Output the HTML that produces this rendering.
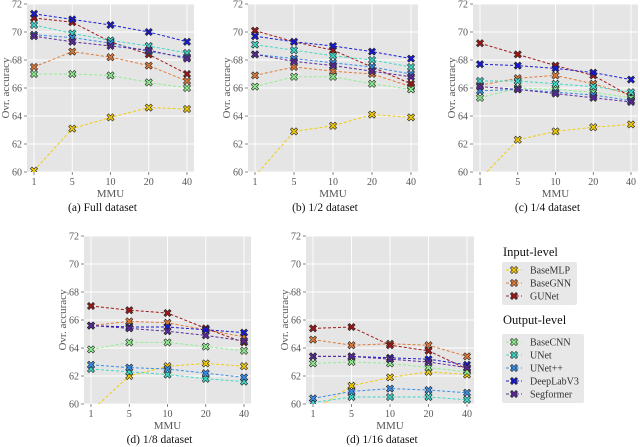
<!DOCTYPE html>
<html><head><meta charset="utf-8"><style>
html,body{margin:0;padding:0;background:#fff;}
svg{display:block;font-family:"Liberation Serif",serif;}
</style></head><body>
<svg id="c" width="640" height="447" viewBox="0 0 640 447" xmlns="http://www.w3.org/2000/svg"></svg>
<script>
const categories = ["1","5","10","20","40"];
const yTicks = [60,62,64,66,68,70,72];
const seriesNames = ["BaseMLP","BaseGNN","GUNet","BaseCNN","UNet","UNet++","DeepLabV3","Segformer"];
const seriesColors = ["#f2cc0c","#e07b39","#a01818","#90ee90","#40d8c8","#3a8ee6","#1a1ad6","#5a2a9a"];
const panelTitles = ["(a) Full dataset","(b) 1/2 dataset","(c) 1/4 dataset","(d) 1/8 dataset","(d) 1/16 dataset"];
const dataFull = [
 [60.1,63.1,63.9,64.6,64.5],[67.5,68.6,68.2,67.6,66.5],[71.0,70.7,69.3,68.4,67.0],[67.0,67.0,66.9,66.4,66.0],
 [70.5,69.9,69.4,69.0,68.5],[69.8,69.6,69.2,68.6,68.2],[71.3,70.9,70.5,70.0,69.3],[69.7,69.3,69.0,68.7,68.1]];
const dataHalf = [
 [59.7,62.9,63.3,64.1,63.9],[66.9,67.5,67.2,67.0,66.1],[70.1,69.3,68.7,67.5,66.3],[66.1,66.8,66.8,66.3,65.9],
 [69.1,68.7,68.3,68.0,67.5],[68.4,68.1,67.8,67.5,67.0],[69.7,69.3,69.0,68.6,68.1],[68.4,67.9,67.6,67.2,66.8]];
const dataQuarter = [
 [59.5,62.3,62.9,63.2,63.4],[66.2,66.7,66.9,66.3,65.5],[69.2,68.4,67.6,66.9,65.4],[65.3,66.0,65.9,65.7,65.3],
 [66.5,66.5,66.3,66.1,65.7],[65.8,65.9,65.7,65.5,65.1],[67.7,67.6,67.4,67.1,66.6],[66.1,65.9,65.6,65.3,65.0]];
const dataEighth = [
 [59.5,62.0,62.7,62.9,62.7],[65.6,65.9,65.8,65.3,64.8],[67.0,66.7,66.5,65.4,64.4],[63.9,64.4,64.4,64.1,63.8],
 [62.5,62.3,62.1,61.8,61.6],[62.8,62.6,62.5,62.2,61.9],[65.6,65.5,65.5,65.3,65.1],[65.6,65.4,65.2,64.9,64.5]];
const dataSixteenth = [
 [59.5,61.3,61.9,62.3,62.1],[64.6,64.2,64.3,64.2,63.4],[65.4,65.5,64.2,63.8,62.5],[62.9,63.0,62.9,62.6,62.3],
 [60.1,60.5,60.5,60.5,60.3],[60.4,60.9,61.1,61.0,60.8],[63.4,63.4,63.3,63.2,62.8],[63.4,63.4,63.2,63.0,62.6]];
const allData = [dataFull,dataHalf,dataQuarter,dataEighth,dataSixteenth];

const NS="http://www.w3.org/2000/svg";
const svg=document.getElementById('c');
function mk(tag,attrs,parent){const e=document.createElementNS(NS,tag);for(const k in attrs)e.setAttribute(k,attrs[k]);(parent||svg).appendChild(e);return e;}
const panels=[{l:27,r:194,t:4,b:172},{l:248,r:418,t:4,b:172},{l:473,r:638,t:4,b:172},{l:84,r:251,t:236,b:404},{l:306,r:474,t:236,b:404}];
const panelKeys=["full","half","quarter","eighth","sixteenth"];
function xMark(g,cx,cy,color){
  const s=3.6,w=1.6;
  const d=`M${cx-s},${cy-s+w}L${cx-s+w},${cy-s}L${cx},${cy-w}L${cx+s-w},${cy-s}L${cx+s},${cy-s+w}L${cx+w},${cy}L${cx+s},${cy+s-w}L${cx+s-w},${cy+s}L${cx},${cy+w}L${cx-s+w},${cy+s}L${cx-s},${cy+s-w}L${cx-w},${cy}Z`;
  return mk('path',{d:d,fill:color,stroke:'#222','stroke-width':0.6},g);
}
panels.forEach((p,pi)=>{
  const g=mk('g',{});
  
  
  const bg=mk('rect',{x:p.l,y:p.t,width:p.r-p.l,height:p.b-p.t,fill:'#e5e5e5'},g);
  
  
  const x0=p.l+7,x1=p.r-7;
  const xs=i=>x0+(x1-x0)*i/(categories.length-1);
  const ys=v=>p.b-(v-60)/(72-60)*(p.b-p.t);
  yTicks.forEach(v=>{
    const y=ys(v);
    mk('line',{x1:p.l,x2:p.r,y1:y,y2:y,stroke:'#fff','stroke-width':0.9},g);
    mk('line',{x1:p.l-3,x2:p.l,y1:y,y2:y,stroke:'#555','stroke-width':0.7},g);
    const t=mk('text',{x:p.l-5,y:y+3.5,'text-anchor':'end','font-size':10,fill:'#555'},g);
    t.textContent=v;
    
    
  });
  categories.forEach((c,i)=>{
    const x=xs(i);
    mk('line',{x1:x,x2:x,y1:p.t,y2:p.b,stroke:'#fff','stroke-width':0.9},g);
    mk('line',{x1:x,x2:x,y1:p.b,y2:p.b+3,stroke:'#555','stroke-width':0.7},g);
    const t=mk('text',{x:x,y:p.b+13,'text-anchor':'middle','font-size':10,fill:'#555'},g);
    t.textContent=c;
    
    
  });
  const xt=mk('text',{x:(p.l+p.r)/2,y:p.b+25,'text-anchor':'middle','font-size':11,fill:'#555'},g);
  xt.textContent='MMU';
  
  
  const cy=(p.t+p.b)/2;
  const yt=mk('text',{x:p.l-18,y:cy,'text-anchor':'middle','font-size':11,fill:'#555',transform:`rotate(-90 ${p.l-18} ${cy})`},g);
  yt.textContent='Ovr. accuracy';
  
  
  const cap=mk('text',{x:(p.l+p.r)/2-8,y:p.b+39,'text-anchor':'middle','font-size':11.5,fill:'#111'},g);
  cap.textContent=panelTitles[pi];
  
  
  const clip=mk('clipPath',{id:'cl'+pi},g);
  mk('rect',{x:p.l,y:p.t,width:p.r-p.l,height:p.b-p.t},clip);
  const sg=mk('g',{'clip-path':`url(#cl${pi})`},g);
  allData[pi].forEach((vals,si)=>{
    const pts=vals.map((v,i)=>xs(i)+','+ys(v)).join(' ');
    const ln=mk('polyline',{points:pts,fill:'none',stroke:seriesColors[si],'stroke-width':1,'stroke-dasharray':'3,2'},sg);
    
    
    vals.forEach((v,i)=>{
      const m=xMark(sg,xs(i),ys(v),seriesColors[si]);
      
      
    });
  });
});
// legend
function legendGroup(title,ty,bx,by,bw,names,idxs){
  const g=mk('g',{});
  
  
  const t=mk('text',{x:503,y:ty,'font-size':12.5,fill:'#111'},g);
  t.textContent=title;
  
  
  mk('rect',{x:bx,y:by,width:bw,height:idxs.length*13+4,fill:'#e8e8e8',rx:2},g);
  idxs.forEach((si,k)=>{
    const y=by+8+k*13;
    const e=mk('g',{},g);
    
    
    mk('line',{x1:506,x2:522,y1:y,y2:y,stroke:seriesColors[si],'stroke-width':1,'stroke-dasharray':'3,2'},e);
    xMark(e,514,y,seriesColors[si]);
    const lt=mk('text',{x:530,y:y+3.5,'font-size':10,fill:'#333'},e);
    lt.textContent=seriesNames[si];
  });
}
legendGroup('Input-level',256,502,262,75,seriesNames,[0,1,2]);
legendGroup('Output-level',324,502,334,82,seriesNames,[3,4,5,6,7]);
</script>
</body></html>
